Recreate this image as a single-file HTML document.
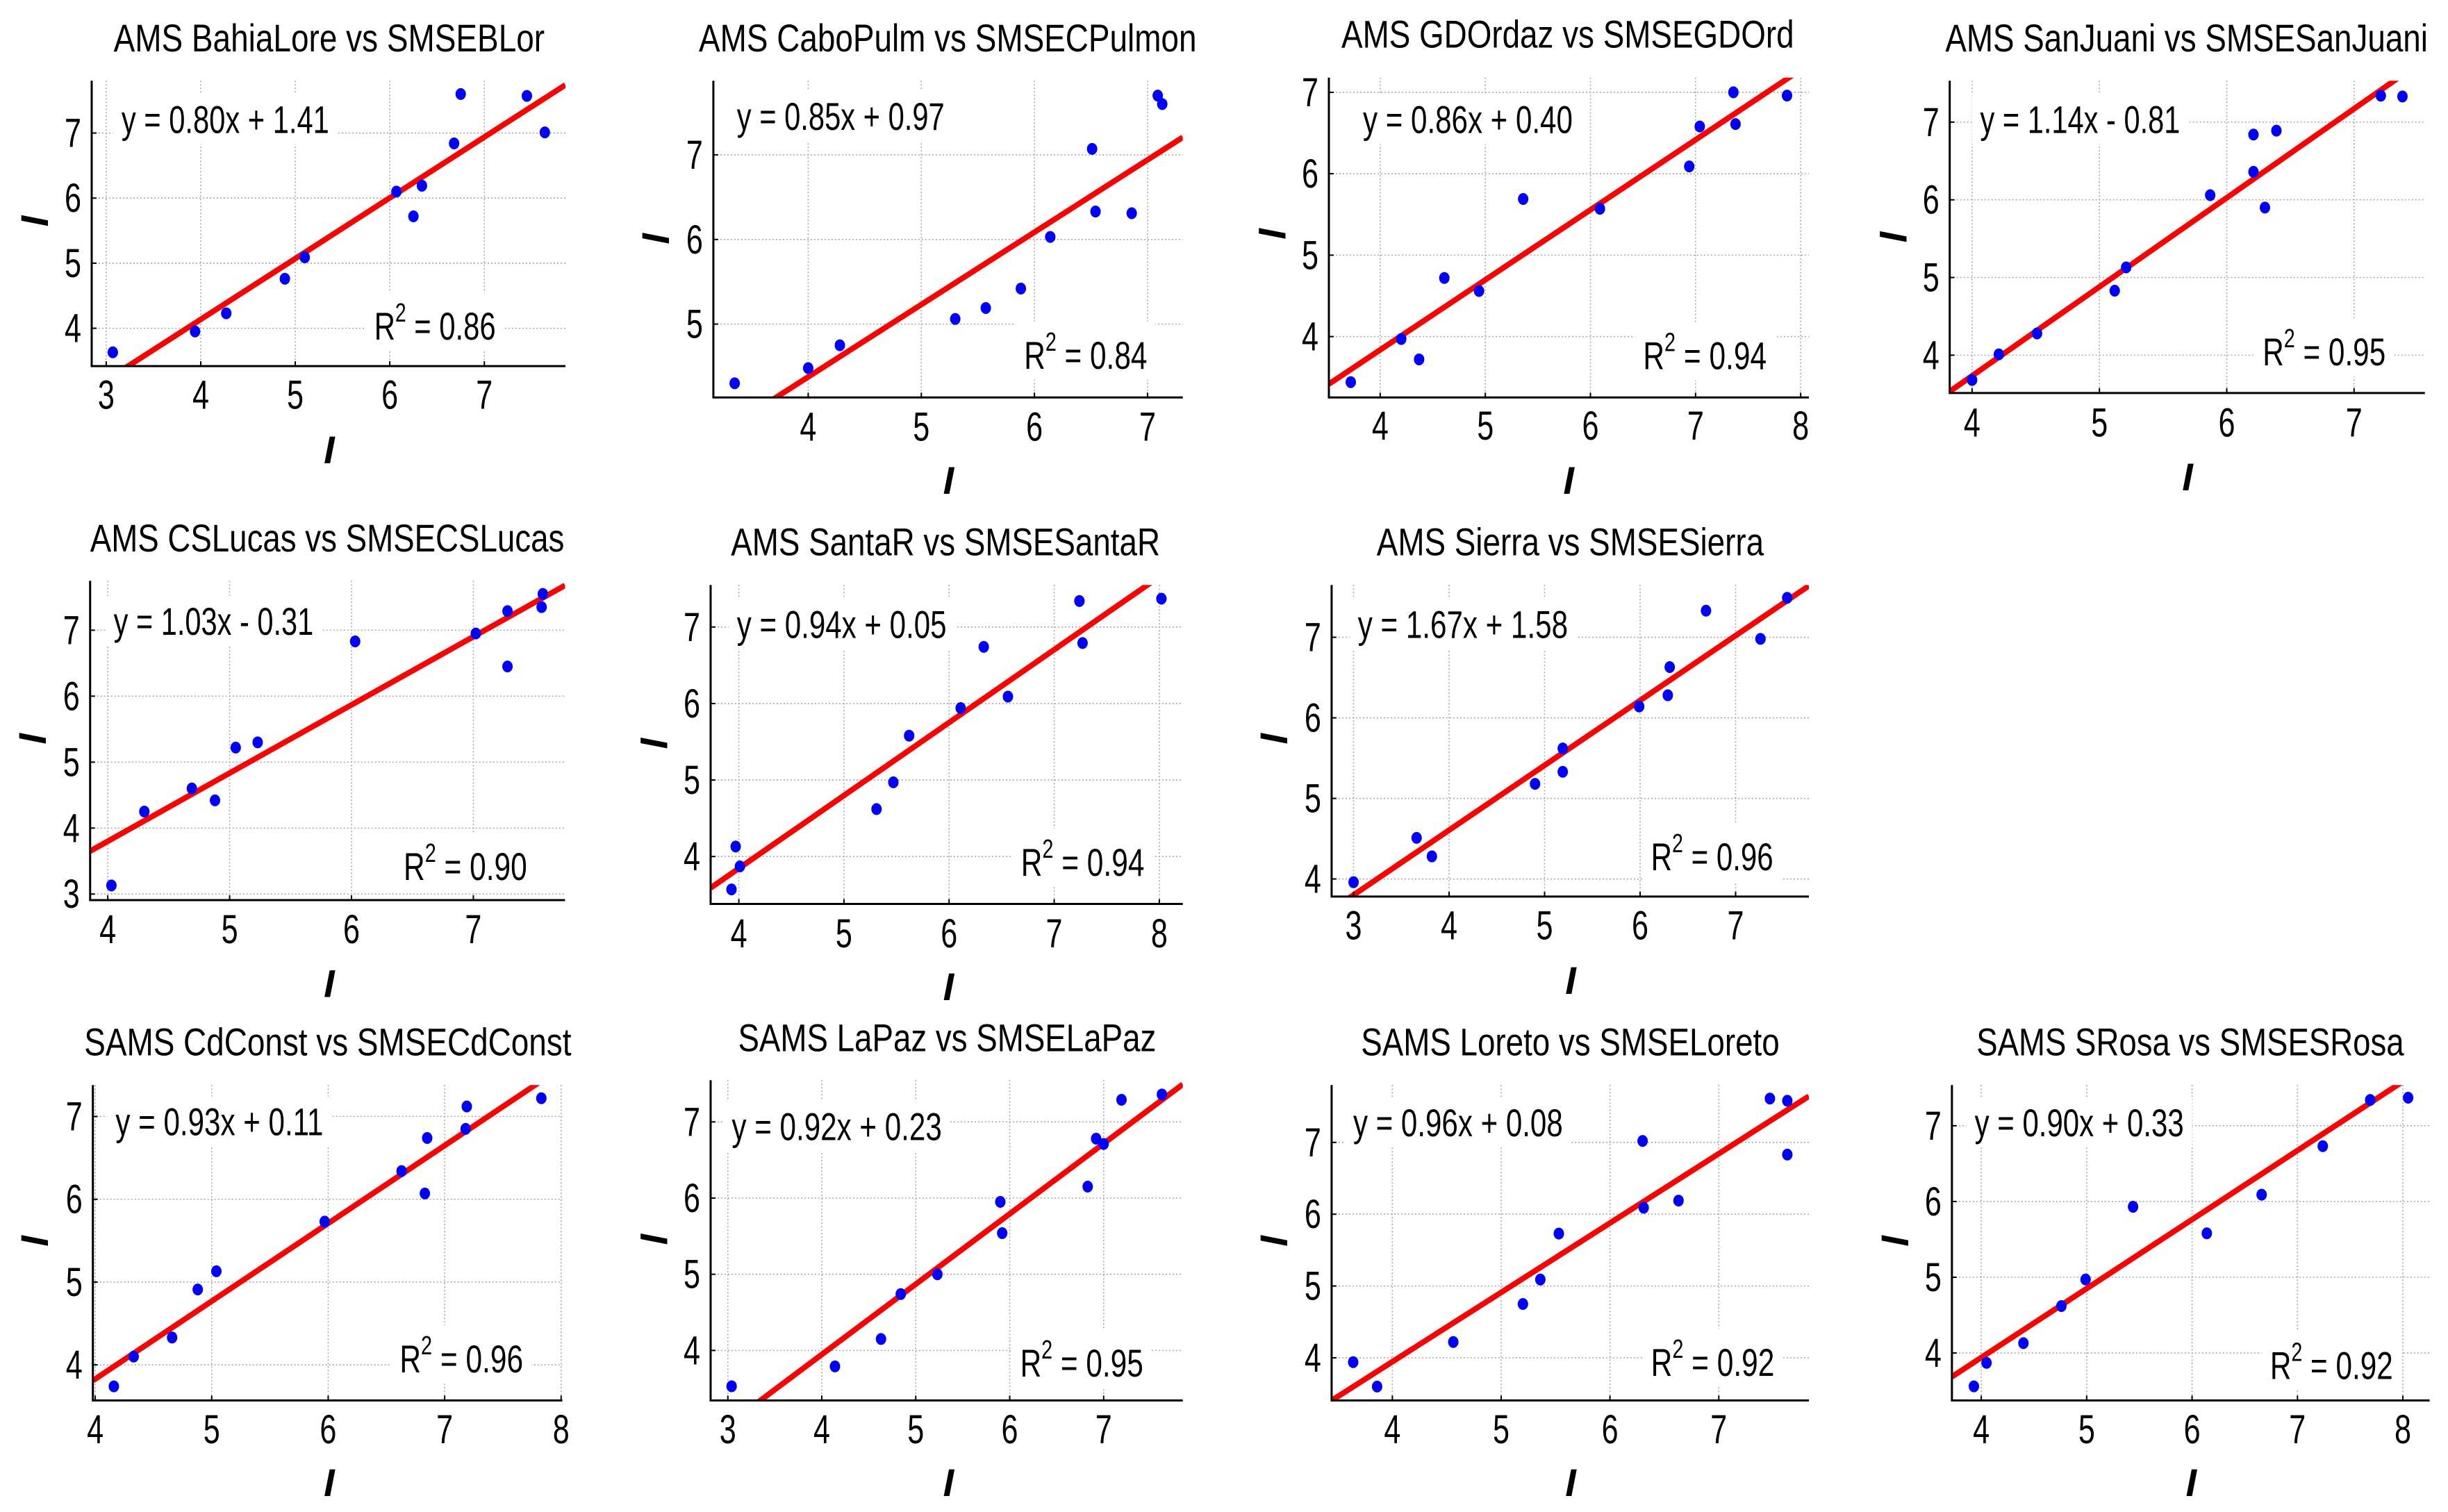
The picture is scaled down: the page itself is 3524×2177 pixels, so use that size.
<!DOCTYPE html>
<html><head><meta charset="utf-8"><title>AMS vs SMSE scatter panels</title>
<style>
html,body{margin:0;padding:0;background:#fff;}
svg{display:block;font-family:"Liberation Sans",Arial,sans-serif;}
</style></head>
<body>
<svg id="chart" xmlns="http://www.w3.org/2000/svg" width="3524" height="2177" viewBox="0 0 3524 2177">
<rect x="0" y="0" width="3524" height="2177" fill="#fff"/>
</svg>
<script>
// ---- data ----
const titles = ["AMS BahiaLore vs SMSEBLor","AMS CaboPulm vs SMSECPulmon","AMS GDOrdaz vs SMSEGDOrd","AMS SanJuani vs SMSESanJuani","AMS CSLucas vs SMSECSLucas","AMS SantaR vs SMSESantaR","AMS Sierra vs SMSESierra","SAMS CdConst vs SMSECdConst","SAMS LaPaz vs SMSELaPaz","SAMS Loreto vs SMSELoreto","SAMS SRosa vs SMSESRosa"];
const eqLabels = ["y = 0.80x + 1.41","y = 0.85x + 0.97","y = 0.86x + 0.40","y = 1.14x - 0.81","y = 1.03x - 0.31","y = 0.94x + 0.05","y = 1.67x + 1.58","y = 0.93x + 0.11","y = 0.92x + 0.23","y = 0.96x + 0.08","y = 0.90x + 0.33"];
const r2Labels = ["0.86","0.84","0.94","0.95","0.90","0.94","0.96","0.96","0.95","0.92","0.92"];
const lineSlopes = [0.934,0.855,0.860,1.146,1.034,0.953,0.805,0.940,0.923,0.966,0.911];
const lineIntercepts = [0.40,0.956,0.397,-0.85,-0.336,0.033,1.386,0.069,0.255,0.081,0.296];

const bahiaX = [3.07,3.94,4.27,4.89,5.10,6.07,6.25,6.34,6.68,6.75,7.45,7.64];
const bahiaY = [3.63,3.95,4.23,4.76,5.09,6.10,5.72,6.19,6.84,7.60,7.57,7.01];
const caboX = [3.35,4.00,4.28,5.30,5.57,5.88,6.14,6.51,6.54,6.86,7.09,7.13];
const caboY = [4.30,4.48,4.75,5.06,5.19,5.42,6.03,7.07,6.33,6.31,7.70,7.60];
const gdoX = [3.72,4.20,4.37,4.61,4.94,5.36,6.09,6.94,7.04,7.36,7.38,7.87];
const gdoY = [3.44,3.97,3.72,4.72,4.56,5.69,5.57,6.09,6.58,7.00,6.61,6.96];
const sjX = [4.00,4.21,4.51,5.12,5.21,5.87,6.21,6.21,6.30,6.39,7.21,7.38];
const sjY = [3.68,4.01,4.28,4.83,5.13,6.06,6.84,6.36,5.90,6.89,7.34,7.33];
const cslX = [4.03,4.30,4.69,4.88,5.05,5.23,6.03,7.02,7.28,7.28,7.57,7.56];
const cslY = [3.13,4.25,4.60,4.42,5.22,5.30,6.83,6.95,7.29,6.45,7.55,7.35];
const srX = [3.93,3.97,4.01,5.31,5.47,5.62,6.11,6.33,6.56,7.24,7.27,8.02];
const srY = [3.57,4.13,3.87,4.62,4.97,5.58,5.94,6.74,6.09,7.34,6.79,7.37];
const sieX = [3.00,3.66,3.82,4.90,5.19,5.19,5.99,6.29,6.31,6.69,7.26,7.54];
const sieY = [3.96,4.51,4.28,5.18,5.62,5.33,6.14,6.28,6.63,7.33,6.98,7.49];
const cdcX = [4.16,4.33,4.66,4.88,5.04,5.97,6.63,6.83,6.85,7.18,7.19,7.83];
const cdcY = [3.74,4.10,4.33,4.91,5.13,5.73,6.34,6.07,6.74,6.85,7.12,7.22];
const lpzX = [3.04,4.14,4.63,4.84,5.23,5.90,5.92,6.83,6.92,7.00,7.19,7.62];
const lpzY = [3.53,3.79,4.15,4.74,5.00,5.95,5.54,6.15,6.78,6.71,7.29,7.36];
const lorX = [3.64,3.86,4.56,5.20,5.36,5.53,6.30,6.31,6.63,7.47,7.63,7.63];
const lorY = [3.94,3.60,4.22,4.75,5.09,5.73,7.02,6.09,6.19,7.61,7.58,6.83];
const srsX = [3.93,4.05,4.40,4.76,4.99,5.44,6.14,6.66,7.24,7.69,8.05];
const srsY = [3.56,3.87,4.13,4.62,4.97,5.93,5.58,6.09,6.73,7.34,7.37];

const xTicksA = [3,4,5,6,7];
const xTicksB = [4,5,6,7];
const xTicksC = [4,5,6,7,8];
const yTicksA = [4,5,6,7];
const yTicksB = [5,6,7];
const yTicksC = [3,4,5,6,7];

const seriesX = [bahiaX,caboX,gdoX,sjX,cslX,srX,sieX,cdcX,lpzX,lorX,srsX];
const seriesY = [bahiaY,caboY,gdoY,sjY,cslY,srY,sieY,cdcY,lpzY,lorY,srsY];
const xTickSets = [xTicksA,xTicksB,xTicksC,xTicksB,xTicksB,xTicksC,xTicksA,xTicksC,xTicksA,xTicksB,xTicksC];
const yTickSets = [yTicksA,yTicksB,yTicksA,yTicksA,yTicksC,yTicksA,yTicksA,yTicksA,yTicksA,yTicksA,yTicksA];

// ---- layout (measured in zoomed-crop coordinates, 1560 units per crop side) ----
const layouts = [
 {ox:0,oy:0,w:880,L:234,R:1443,T:252,B:1142,xa:[271,3],xb:[1236,7],ya:[415,7],yb:[1024,4],title:[290,1390,160],eq:[310,840,415],r2:[955,1265,1060],tick:1275,xl:[840,1445],yl:[90,690]},
 {ox:900,oy:0,w:880,L:225,R:1423,T:252,B:1240,xa:[467,4],xb:[1333,7],ya:[483,7],yb:[1011,5],title:[188,1458,160],eq:[285,815,405],r2:[1018,1332,1150],tick:1375,xl:[825,1540],yl:[80,745]},
 {ox:1790,oy:0,w:880,L:218,R:1443,T:242,B:1240,xa:[349,4],xb:[1422,8],ya:[288,7],yb:[1050,4],title:[250,1405,148],eq:[305,840,415],r2:[1020,1335,1152],tick:1372,xl:[830,1540],yl:[75,730]},
 {ox:2700,oy:0,w:824,L:202,R:1497,T:252,B:1226,xa:[263,4],xb:[1304,7],ya:[381,7],yb:[1108,4],title:[190,1505,160],eq:[285,830,415],r2:[1055,1390,1140],tick:1362,xl:[850,1530],yl:[50,740]},
 {ox:0,oy:720,w:880,L:230,R:1442,T:252,B:1248,xa:[275,4],xb:[1208,7],ya:[406,7],yb:[1229,3],title:[230,1440,160],eq:[290,800,420],r2:[1030,1345,1185],tick:1382,xl:[840,1550],yl:[85,745]},
 {ox:900,oy:720,w:880,L:218,R:1423,T:265,B:1260,xa:[290,4],xb:[1363,8],ya:[396,7],yb:[1112,4],title:[270,1365,172],eq:[285,820,430],r2:[1010,1325,1172],tick:1395,xl:[825,1560],yl:[75,760]},
 {ox:1790,oy:720,w:880,L:225,R:1443,T:265,B:1237,xa:[281,3],xb:[1256,7],ya:[428,7],yb:[1182,4],title:[340,1328,172],eq:[292,828,430],r2:[1040,1352,1155],tick:1370,xl:[835,1540],yl:[80,745]},
 {ox:0,oy:1457,w:880,L:237,R:1435,T:228,B:1212,xa:[243,4],xb:[1432,8],ya:[326,7],yb:[1101,4],title:[215,1458,135],eq:[295,825,385],r2:[1020,1335,1125],tick:1345,xl:[840,1510],yl:[90,715]},
 {ox:900,oy:1457,w:880,L:218,R:1423,T:213,B:1212,xa:[262,3],xb:[1221,7],ya:[343,7],yb:[1056,4],title:[288,1355,122],eq:[272,808,400],r2:[1008,1322,1138],tick:1345,xl:[825,1510],yl:[75,710]},
 {ox:1790,oy:1457,w:880,L:225,R:1443,T:228,B:1212,xa:[380,4],xb:[1213,7],ya:[407,7],yb:[1079,4],title:[300,1368,135],eq:[280,815,388],r2:[1040,1355,1135],tick:1345,xl:[835,1510],yl:[80,715]},
 {ox:2700,oy:1457,w:824,L:208,R:1510,T:228,B:1212,xa:[288,4],xb:[1437,8],ya:[355,7],yb:[1064,4],title:[275,1440,135],eq:[270,840,388],r2:[1075,1410,1145],tick:1345,xl:[860,1510],yl:[55,715]}
];

const NS = 'http://www.w3.org/2000/svg';
const svg = document.getElementById('chart');
function mk(tag, parent){ const e = document.createElementNS(NS, tag); parent.appendChild(e); return e; }
function attrs(e, o){ for (const k in o) e.setAttribute(k, o[k]); }

layouts.forEach((p, i) => {
  const fx = p.w / 1560, fy = 720 / 1560;
  const X = z => p.ox + z * fx, Y = z => p.oy + z * fy;
  const L = X(p.L), R = X(p.R), T = Y(p.T), B = Y(p.B);
  const xs = (X(p.xb[0]) - X(p.xa[0])) / (p.xb[1] - p.xa[1]);
  const ys = (Y(p.yb[0]) - Y(p.ya[0])) / (p.yb[1] - p.ya[1]);
  const xpx = v => X(p.xa[0]) + (v - p.xa[1]) * xs;
  const ypx = v => Y(p.ya[0]) + (v - p.ya[1]) * ys;
  const xval = px => p.xa[1] + (px - X(p.xa[0])) / xs;

  const g = mk('g', svg);
  
  

  const cp = mk('clipPath', g); cp.setAttribute('id', 'clip' + i);
  const cr = mk('rect', cp); attrs(cr, {x: L, y: T, width: R - L, height: B - T});

  // grid
  xTickSets[i].forEach(v => {
    const ln = mk('line', g);
    
    
    attrs(ln, {x1: xpx(v), x2: xpx(v), y1: T, y2: B, stroke: '#a8a8a8', 'stroke-width': 1.6, 'stroke-dasharray': '2 3'});
  });
  yTickSets[i].forEach(v => {
    const ln = mk('line', g);
    
    
    attrs(ln, {x1: L, x2: R, y1: ypx(v), y2: ypx(v), stroke: '#a8a8a8', 'stroke-width': 1.6, 'stroke-dasharray': '2 3'});
  });

  // white backing for annotations
  [[p.eq, 52], [p.r2, 64]].forEach(([t, h]) => {
    const r = mk('rect', g);
    
    
    attrs(r, {x: X(t[0]) - 12, y: Y(t[2]) - h - 4, width: X(t[1]) - X(t[0]) + 24, height: h + 20, fill: '#fff'});
  });

  // equation
  const eq = mk('text', g);
  
  
  attrs(eq, {x: X(p.eq[0]), y: Y(p.eq[2]), 'font-size': 56, textLength: X(p.eq[1]) - X(p.eq[0]), lengthAdjust: 'spacingAndGlyphs', fill: '#000'});
  eq.textContent = eqLabels[i];

  // R^2
  const rT = mk('text', g);
  
  
  attrs(rT, {x: X(p.r2[0]), y: Y(p.r2[2]), 'font-size': 56, fill: '#000', textLength: X(p.r2[1]) - X(p.r2[0]), lengthAdjust: 'spacingAndGlyphs'});
  const t1 = mk('tspan', rT); t1.textContent = 'R';
  const t2 = mk('tspan', rT); attrs(t2, {dy: -26, 'font-size': 38}); t2.textContent = '2';
  const t3 = mk('tspan', rT); attrs(t3, {dy: 26}); t3.textContent = '\u00a0= ' + r2Labels[i];

  // regression line
  const x0 = xval(L), x1 = xval(R);
  const rl = mk('line', g);
  
  
  attrs(rl, {x1: xpx(x0), y1: ypx(lineSlopes[i] * x0 + lineIntercepts[i]), x2: xpx(x1), y2: ypx(lineSlopes[i] * x1 + lineIntercepts[i]), stroke: '#ff0000', 'stroke-width': 8, 'clip-path': 'url(#clip' + i + ')'});

  // points
  seriesX[i].forEach((xv, k) => {
    const d = mk('ellipse', g);
    
    
    attrs(d, {cx: xpx(xv), cy: ypx(seriesY[i][k]), rx: 7.5, ry: 8.5, fill: '#0000ff'});
  });

  // axes
  const ax = mk('path', g);
  
  
  attrs(ax, {d: `M${L},${T} L${L},${B} L${R},${B}`, fill: 'none', stroke: '#000', 'stroke-width': 3});

  // tick labels
  xTickSets[i].forEach(v => {
    const tk = mk('line', g);
    
    
    attrs(tk, {x1: xpx(v), x2: xpx(v), y1: B, y2: B - 7, stroke: '#000', 'stroke-width': 2});
    const tl = mk('text', g);
    
    
    attrs(tl, {x: xpx(v) - 12, y: Y(p.tick), 'font-size': 58, textLength: 24, lengthAdjust: 'spacingAndGlyphs', fill: '#000'});
    tl.textContent = v;
  });
  yTickSets[i].forEach(v => {
    const tk = mk('line', g);
    
    
    attrs(tk, {x1: L, x2: L + 7, y1: ypx(v), y2: ypx(v), stroke: '#000', 'stroke-width': 2});
    const tl = mk('text', g);
    
    
    attrs(tl, {x: L - 39, y: ypx(v) + 20, 'font-size': 58, textLength: 24, lengthAdjust: 'spacingAndGlyphs', fill: '#000'});
    tl.textContent = v;
  });

  // title
  const ti = mk('text', g);
  
  
  attrs(ti, {x: X(p.title[0]), y: Y(p.title[2]), 'font-size': 56, textLength: X(p.title[1]) - X(p.title[0]), lengthAdjust: 'spacingAndGlyphs', fill: '#000'});
  ti.textContent = titles[i];

  // axis labels
  const xl = mk('text', g);
  
  
  attrs(xl, {x: X(p.xl[0]), y: Y(p.xl[1]), 'font-size': 56, 'font-style': 'italic', 'font-weight': 'bold', 'text-anchor': 'middle', fill: '#000'});
  xl.textContent = 'I';
  const yl = mk('text', g);
  
  
  const yx = X(p.yl[0]) + 18, yy = Y(p.yl[1]);
  attrs(yl, {x: yx, y: yy, 'font-size': 56, 'font-style': 'italic', 'font-weight': 'bold', 'text-anchor': 'middle', fill: '#000', transform: `rotate(-90 ${yx} ${yy})`});
  yl.textContent = 'I';
});
</script>
</body></html>
